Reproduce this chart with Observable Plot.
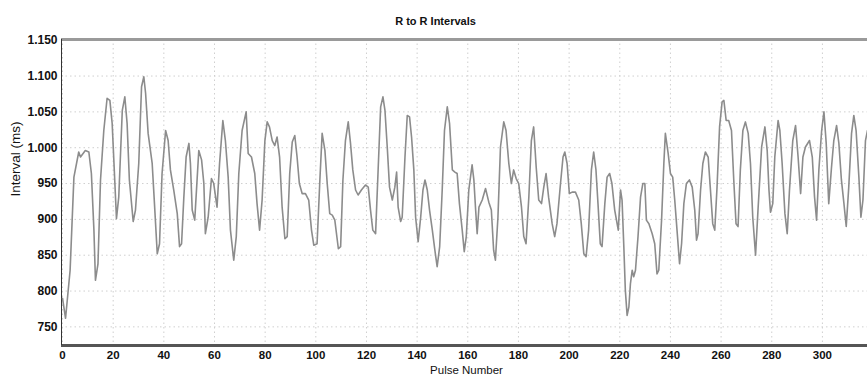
<!DOCTYPE html>
<html>
<head>
<meta charset="utf-8">
<script src="https://cdn.jsdelivr.net/npm/d3@7"></script>
<script src="https://cdn.jsdelivr.net/npm/@observablehq/plot@0.6"></script>
<style>
  html, body { margin: 0; padding: 0; background: #fff; }
</style>
</head>
<body>
<div id="chart"></div>
<script>
const title = "R to R Intervals";
const xLabel = "Pulse Number";
const yLabel = "Interval (ms)";
const xTicks = [0, 20, 40, 60, 80, 100, 120, 140, 160, 180, 200, 220, 240, 260, 280, 300];
const yTicks = [750, 800, 850, 900, 950, 1000, 1050, 1100, 1150];

const pulse = [
  0, 1.2, 3, 4.5, 6.4, 7.1, 9, 10.4, 11.4, 12.4, 13, 14, 15, 16.3, 17.6, 18.7, 19.6, 20.5, 21.3, 22.2,
  23.6, 24.6, 25.5, 26.4, 27.9, 28.8, 30.1, 31.2, 32.1, 32.8, 33.8, 35.4, 36.3, 37.4, 38.3, 39.3, 40.7, 41.7, 42.6, 43.9,
  45.3, 46.2, 47, 47.9, 48.8, 49.9, 50.5, 51.2, 52.2, 53.8, 54.9, 55.8, 56.4, 57.5, 58.8, 59.7, 61, 62, 63.3, 64.3,
  65.4, 66.3, 67.6, 68.6, 69.6, 70.9, 72.5, 73.3, 74.6, 75.9, 76.8, 77.8, 78.8, 79.9, 80.8, 81.7, 82.8, 83.8, 84.7, 85.7,
  86.7, 87.8, 88.7, 89.7, 90.7, 91.7, 92.6, 93.5, 94.6, 95.9, 97.2, 98.3, 99.2, 100.5, 101.6, 102.5, 103.6, 104.5, 105.5, 106.5,
  107.5, 108.9, 109.8, 110.7, 111.7, 112.8, 113.7, 114.6, 115.7, 116.7, 118, 119.6, 120.7, 121.6, 122.5, 123.6, 124.6, 125.6, 126.5, 127.3,
  128.2, 129.1, 130.2, 131.2, 131.9, 132.5, 133.5, 134.1, 135.2, 136.1, 137, 137.8, 138.7, 139.4, 140.4, 141.4, 142.3, 143.1, 144, 144.9,
  146, 147, 147.9, 148.9, 149.9, 150.8, 151.9, 152.8, 153.9, 154.9, 155.8, 156.7, 157.8, 158.6, 159.4, 160.4, 161.7, 162.4, 163.1, 163.7,
  164.4, 165.7, 167, 168.3, 169.3, 170.2, 170.9, 171.9, 172.9, 174.2, 175.1, 176.2, 177.2, 178.1, 179.1, 180.1, 181.2, 182.1, 183, 184.1,
  185.1, 186, 187, 188, 189.1, 190, 190.9, 191.9, 193.3, 194.3, 195.2, 196.6, 197.6, 198.3, 199.2, 200.1, 201.2, 202.5, 203.8, 204.8,
  205.8, 206.7, 207.7, 208.8, 209.7, 210.6, 211.4, 212.3, 213, 214.1, 215, 216, 216.9, 218, 219.4, 220.3, 220.9, 221.6, 222.2, 222.9,
  223.6, 224.2, 224.9, 225.5, 226.2, 227.2, 228.2, 229.1, 229.9, 230.5, 231.5, 232.8, 233.8, 234.7, 235.4, 236.5, 237.4, 238, 239.1, 240,
  240.9, 241.7, 242.6, 243.6, 244.4, 245.3, 246.3, 247.5, 248.6, 249.6, 250.3, 250.9, 251.9, 252.8, 253.8, 254.9, 255.8, 256.7, 257.5, 258.4,
  259.4, 260.4, 261.1, 262, 263, 264.1, 265, 265.9, 266.7, 267.6, 268.6, 269.6, 270.7, 271.6, 272.5, 273.6, 274.6, 276, 277.3, 278.2,
  278.9, 279.5, 280.4, 281.2, 282.5, 283.2, 284.1, 285.2, 286.1, 287, 288.3, 289.4, 290.4, 291.4, 292.3, 293.3, 294.9, 296, 296.9, 297.7,
  298.6, 299.7, 300.6, 301.5, 302.5, 303.6, 304.5, 305.6, 306.5, 307.5, 308.5, 309.4, 310.4, 311.5, 312.4, 313.3, 314.4, 315.2, 316, 317,
  317.8
];
const interval = [
  790, 762, 829, 959, 994, 987, 996, 994, 964, 885, 815, 838, 955, 1024, 1069, 1066, 1034, 964, 901, 931,
  1052, 1071, 1034, 955, 897, 913, 978, 1085, 1099, 1076, 1020, 978, 922, 852, 866, 964, 1024, 1010, 969, 941,
  908, 862, 866, 931, 987, 1006, 978, 913, 899, 996, 983, 950, 880, 903, 957, 950, 917, 978, 1038, 1010,
  959, 885, 843, 876, 964, 1024, 1050, 992, 987, 964, 922, 885, 927, 1010, 1036, 1029, 1010, 1003, 1015, 987,
  917, 873, 876, 964, 1008, 1017, 987, 950, 936, 936, 927, 885, 864, 866, 955, 1020, 996, 950, 908, 906,
  899, 859, 862, 955, 1010, 1036, 1006, 969, 941, 934, 941, 948, 945, 913, 885, 880, 969, 1057, 1071, 1052,
  1001, 945, 927, 945, 966, 917, 897, 903, 987, 1045, 1043, 1015, 969, 903, 869, 903, 941, 955, 941, 913,
  885, 857, 834, 862, 941, 1024, 1057, 1034, 969, 966, 964, 922, 885, 855, 876, 941, 976, 955, 913, 880,
  917, 927, 943, 924, 913, 857, 843, 903, 1001, 1036, 1024, 978, 950, 969, 957, 950, 917, 876, 866, 931,
  1010, 1029, 973, 927, 922, 945, 964, 931, 894, 876, 894, 950, 987, 994, 978, 936, 938, 938, 927, 894,
  852, 848, 885, 969, 994, 969, 922, 866, 862, 922, 959, 964, 950, 913, 885, 941, 927, 862, 801, 766,
  778, 810, 829, 820, 829, 876, 931, 950, 950, 899, 894, 880, 866, 824, 829, 899, 978, 1020, 992, 964,
  959, 927, 885, 838, 866, 922, 950, 955, 945, 913, 871, 880, 941, 978, 994, 987, 941, 894, 885, 945,
  1029, 1064, 1066, 1038, 1038, 1024, 955, 894, 890, 969, 1024, 1036, 1020, 978, 903, 850, 915, 1001, 1029, 996,
  941, 910, 922, 987, 1038, 1024, 978, 908, 880, 941, 1010, 1031, 987, 936, 987, 1001, 1010, 987, 931, 899,
  969, 1024, 1050, 1006, 922, 973, 1010, 1031, 1006, 955, 922, 890, 945, 1020, 1045, 1024, 959, 903, 927, 1010,
  1024
];

const xDomain = [-0.4, 317.8];
const yDomain = [724, 1151];

const data = pulse.map((p, i) => ({pulse: p, interval: interval[i]}));

const fmtY = d => d >= 1000 ? d3.format(",")(d).replace(",", ".") : String(d);

const chart = Plot.plot({
  width: 867,
  height: 378,
  marginLeft: 61,
  marginRight: 0,
  marginTop: 39,
  marginBottom: 33,
  style: {fontFamily: "'Liberation Sans', Arial, sans-serif", fontSize: "12px", background: "#fff", color: "#111"},
  x: {domain: xDomain, label: null},
  y: {domain: yDomain, label: null},
  marks: [
    Plot.gridX(xTicks, {stroke: "#cfcfcf", strokeOpacity: 1, strokeDasharray: "1.5,3"}),
    Plot.gridY(yTicks, {stroke: "#cfcfcf", strokeOpacity: 1, strokeDasharray: "1.5,3"}),
    Plot.axisX(xTicks, {tickSize: 0, tickPadding: 5, label: null, fontSize: 11.5, fontWeight: "bold", fill: "#111"}),
    Plot.axisY(yTicks, {tickSize: 0, tickPadding: 4, label: null, fontSize: 12, tickFormat: fmtY, fontWeight: "bold", fill: "#111"}),
    Plot.ruleY([yDomain[1]], {stroke: "#9a9a9a", strokeWidth: 3}),
    Plot.ruleY([yDomain[0]], {stroke: "#555", strokeWidth: 3}),
    Plot.ruleX([xDomain[0]], {stroke: "#333", strokeWidth: 1}),
    Plot.lineY(data, {x: "pulse", y: "interval", stroke: "#8c8c8c", strokeWidth: 1.6}),
    Plot.text([title], {frameAnchor: "top", dy: -22, dx: -29, fontSize: 11, fontWeight: "bold", fill: "#111"}),
    Plot.text([xLabel], {frameAnchor: "bottom", dy: 28, dx: 2, fontSize: 11.5, fill: "#111"}),
    Plot.text([yLabel], {frameAnchor: "left", dx: -46, dy: 4, rotate: -90, fontSize: 13.5, fill: "#111"})
  ]
});
document.getElementById("chart").append(chart);
</script>
</body>
</html>
